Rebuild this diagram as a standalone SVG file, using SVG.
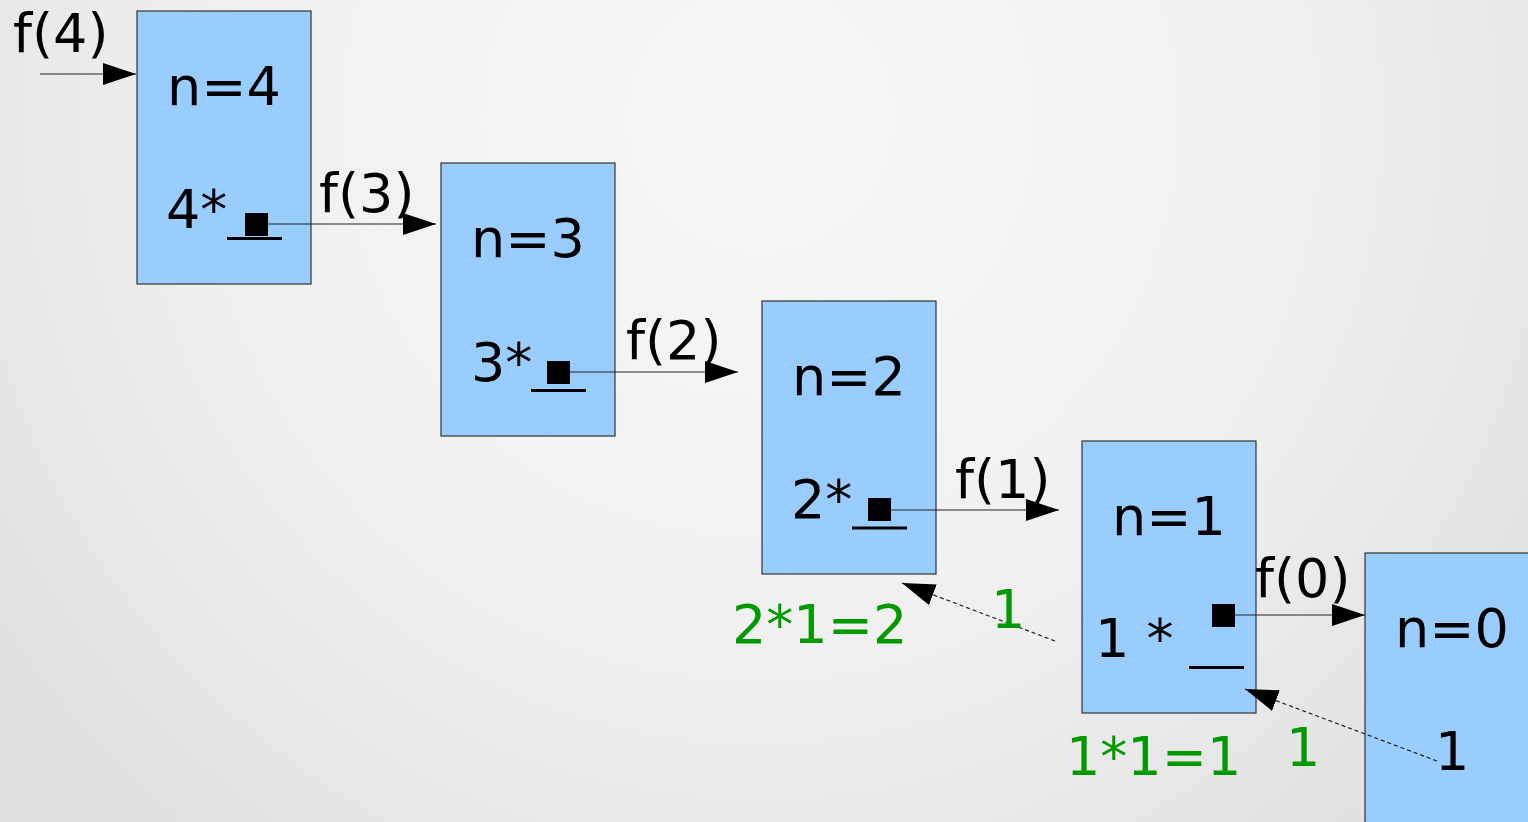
<svg xmlns="http://www.w3.org/2000/svg" width="1528" height="822" viewBox="0 0 1528 822">
<defs>
<radialGradient id="bg" cx="760" cy="120" r="950" gradientUnits="userSpaceOnUse">
<stop offset="0" stop-color="#f8f8f8"/>
<stop offset="0.6" stop-color="#efefef"/>
<stop offset="1" stop-color="#e0e0e0"/>
</radialGradient>
<marker id="ah" markerUnits="userSpaceOnUse" markerWidth="34" markerHeight="24" refX="33" refY="11" orient="auto" viewBox="0 0 34 22">
<path d="M0,0 L33,11 L0,22 Z" fill="#000"/>
</marker>
</defs>
<style>
.box{fill:#99ccff;stroke:#333;stroke-width:1.2}
.t{font-family:"DejaVu Sans",sans-serif;font-size:54px;fill:#000}
.g{font-family:"DejaVu Sans",sans-serif;font-size:54px;fill:#009900}
.c{text-anchor:middle}
.sq{fill:#000}
.ul{stroke:#000;stroke-width:3}
.ln{stroke:#222;stroke-width:1.2;fill:none}
.dl{stroke:#222;stroke-width:1.2;stroke-dasharray:4 3;fill:none}
</style>
<rect width="1528" height="822" fill="url(#bg)"/>
<g id="n4">
<rect class="box" x="137" y="11" width="174" height="273"/>
<text class="t c" x="224" y="105">n=4</text>
<text class="t" x="166" y="228">4*</text>
<rect class="sq" x="245" y="213" width="23" height="23"/>
<line class="ul" x1="227" y1="238.5" x2="282" y2="238.5"/>
</g>
<g id="n3">
<rect class="box" x="441" y="163" width="174" height="273"/>
<text class="t c" x="528" y="257">n=3</text>
<text class="t" x="471" y="381">3*</text>
<rect class="sq" x="547" y="361" width="23" height="23"/>
<line class="ul" x1="531" y1="390.5" x2="586" y2="390.5"/>
</g>
<g id="n2">
<rect class="box" x="762" y="301" width="174" height="273"/>
<text class="t c" x="849" y="395">n=2</text>
<text class="t" x="791" y="518">2*</text>
<rect class="sq" x="868" y="498" width="23" height="23"/>
<line class="ul" x1="852" y1="528" x2="907" y2="528"/>
</g>
<g id="n1">
<rect class="box" x="1082" y="441" width="174" height="272"/>
<text class="t c" x="1169" y="535">n=1</text>
<text class="t" x="1095" y="657">1 *</text>
<rect class="sq" x="1212" y="604" width="23" height="23"/>
<line class="ul" x1="1189" y1="667.5" x2="1244" y2="667.5"/>
</g>
<g id="n0">
<rect class="box" x="1365" y="553" width="180" height="290"/>
<text class="t c" x="1452" y="647">n=0</text>
<text class="t" x="1435" y="770">1</text>
</g>
<g id="connectors">
<line class="ln" x1="40" y1="74" x2="136" y2="74" marker-end="url(#ah)"/>
<line class="ln" x1="268" y1="224" x2="436" y2="224" marker-end="url(#ah)"/>
<line class="ln" x1="570" y1="372" x2="738" y2="372" marker-end="url(#ah)"/>
<line class="ln" x1="891" y1="510" x2="1059" y2="510" marker-end="url(#ah)"/>
<line class="ln" x1="1235" y1="615" x2="1365" y2="615" marker-end="url(#ah)"/>
<line class="dl" x1="1055" y1="641" x2="902" y2="583" marker-end="url(#ah)"/>
<line class="dl" x1="1437" y1="761" x2="1245" y2="689" marker-end="url(#ah)"/>
</g>
<g id="labels">
<text class="t" x="13" y="52">f(4)</text>
<text class="t" x="319" y="212">f(3)</text>
<text class="t" x="626" y="359">f(2)</text>
<text class="t" x="955" y="498">f(1)</text>
<text class="t" x="1255" y="597">f(0)</text>
<text class="g" x="732" y="643">2*1=2</text>
<text class="g" x="991" y="628">1</text>
<text class="g" x="1066" y="775">1*1=1</text>
<text class="g" x="1286" y="766">1</text>
</g>
</svg>
